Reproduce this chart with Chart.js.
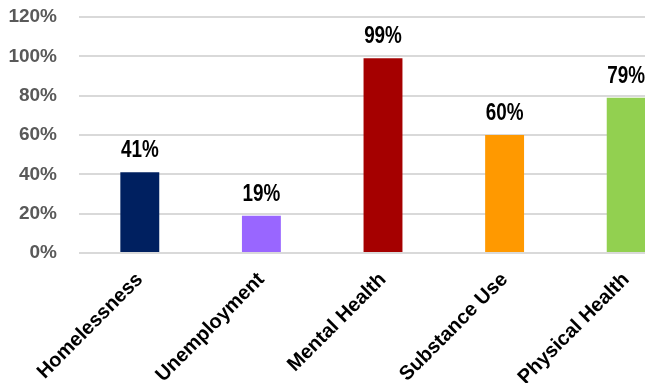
<!DOCTYPE html>
<html>
<head>
<meta charset="utf-8">
<script src="https://cdn.jsdelivr.net/npm/chart.js@4/dist/chart.umd.min.js"></script>
<style>
  html, body { margin: 0; padding: 0; background: #ffffff; overflow: hidden; }
  #wrap { position: relative; width: 700px; height: 383px; }
</style>
</head>
<body>
<div id="wrap"><canvas id="c"></canvas></div>
<script>
const categories = ["Homelessness", "Unemployment", "Mental Health", "Substance Use", "Physical Health"];
const values = [41, 19, 99, 60, 79];
const barColors = ["#002060", "#9966FF", "#A50000", "#FF9900", "#92D050"];
const yTicks = [0, 20, 40, 60, 80, 100, 120];

const FONT = "'Liberation Sans', Arial, sans-serif";

const valueLabels = {
  id: 'valueLabels',
  afterDatasetsDraw(chart) {
    const ctx = chart.ctx;
    const meta = chart.getDatasetMeta(0);
    meta.data.forEach((bar, i) => {
      ctx.save();
      ctx.translate(bar.x, bar.y - 15);
      ctx.scale(0.82, 1);
      ctx.font = "bold 23px " + FONT;
      ctx.fillStyle = "#000000";
      ctx.textAlign = "center";
      ctx.textBaseline = "alphabetic";
      ctx.fillText(values[i] + "%", 0, 0);
      ctx.restore();
    });
  }
};

new Chart(document.getElementById('c'), {
  type: 'bar',
  data: {
    labels: categories,
    datasets: [{
      data: values,
      backgroundColor: barColors,
      borderWidth: 0,
      barPercentage: 0.32,
      categoryPercentage: 1.0
    }]
  },
  options: {
    responsive: true,
    maintainAspectRatio: false,
    animation: false,
    layout: { padding: { top: 17, right: 13, left: 0, bottom: 0 } },
    plugins: { legend: { display: false }, tooltip: { enabled: false } },
    scales: {
      x: {
        grid: { display: false },
        border: { display: false },
        ticks: {
          color: "#000000",
          font: { family: FONT, size: 20, weight: 'bold' },
          minRotation: 45,
          maxRotation: 45,
          padding: 7
        },
        afterFit(scale) {
          scale.height = 130;
          scale.paddingLeft = 0;
          scale.paddingRight = 0;
        }
      },
      y: {
        min: 0,
        max: 120,
        afterBuildTicks(scale) {
          scale.ticks = yTicks.map(v => ({ value: v }));
        },
        grid: { color: "#d9d9d9", lineWidth: 2, drawTicks: false },
        border: { display: false },
        ticks: {
          color: "#595959",
          font: { family: FONT, size: 19, weight: 'bold' },
          padding: 22,
          callback: v => v + "%"
        },
        afterFit(scale) {
          scale.width = 79;
          scale.paddingTop = 0;
          scale.paddingBottom = 0;
        }
      }
    }
  },
  plugins: [valueLabels]
});
</script>
</body>
</html>
